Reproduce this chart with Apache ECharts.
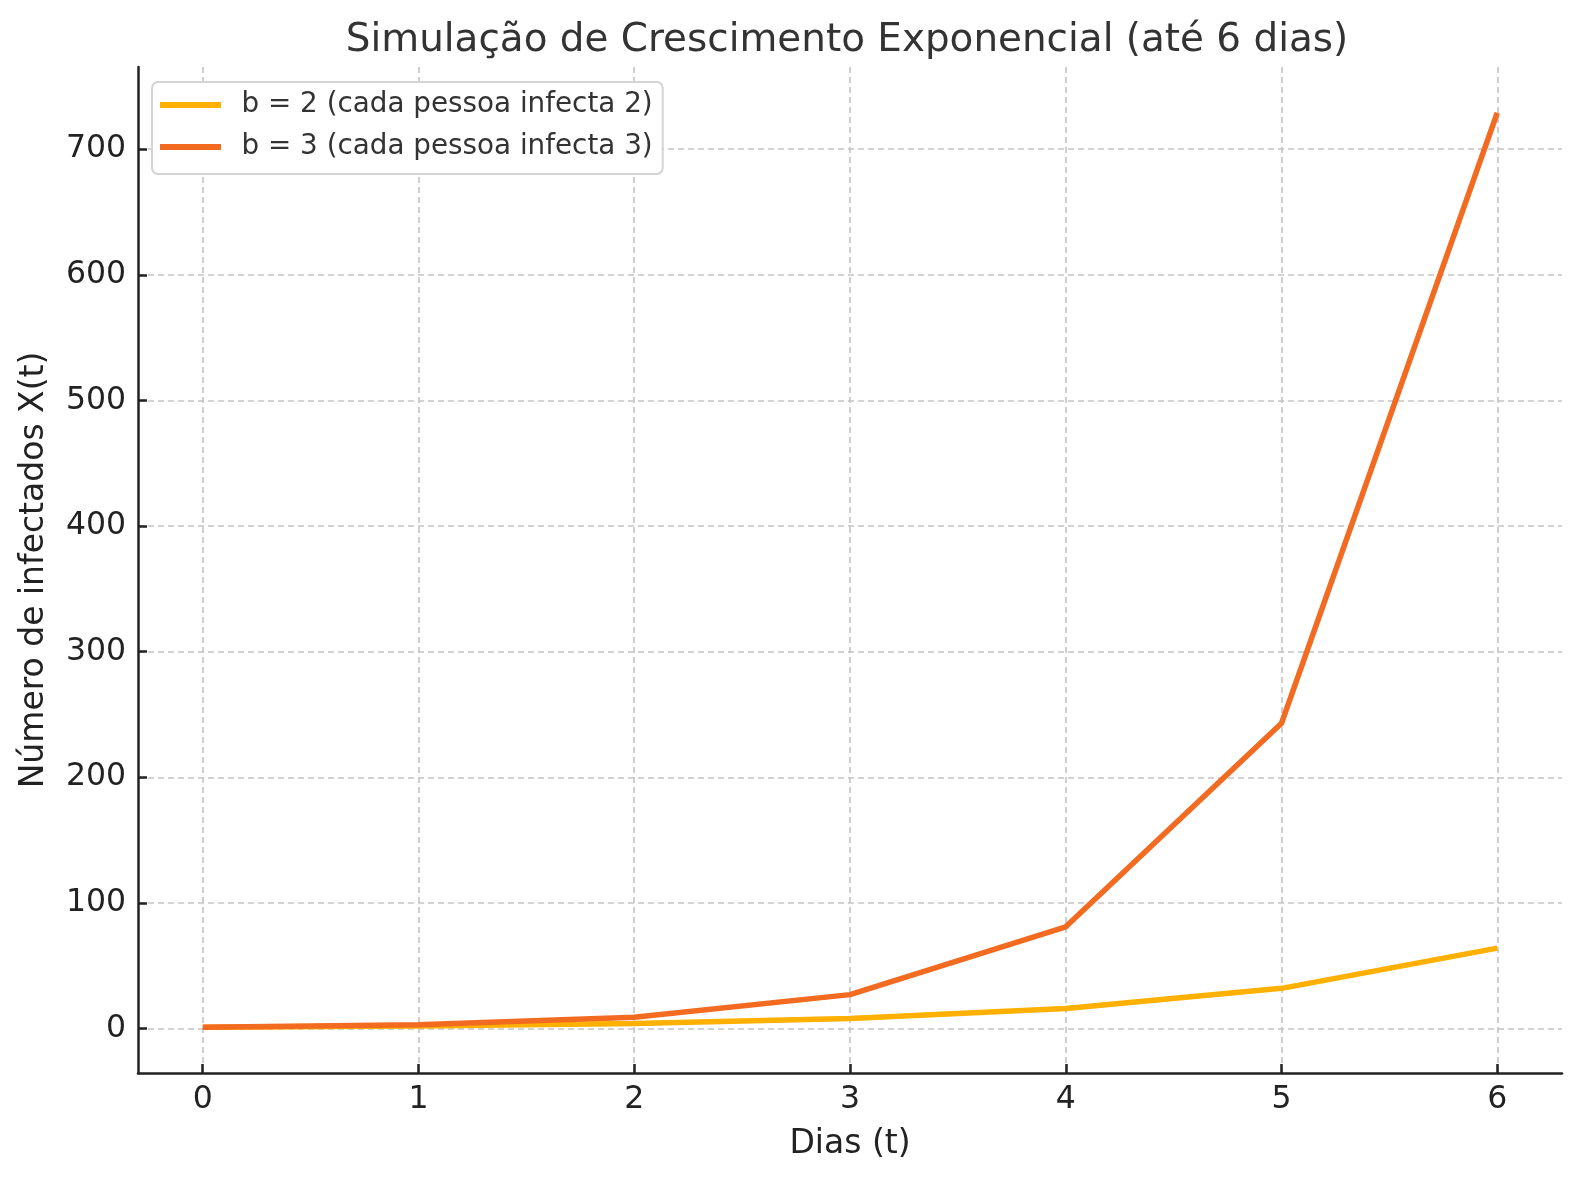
<!DOCTYPE html>
<html>
<head>
<meta charset="utf-8">
<script src="https://cdn.jsdelivr.net/npm/echarts@6/dist/echarts.min.js"></script>
<style>
  html, body { margin: 0; padding: 0; background: #fff; }
  #main { width: 1580px; height: 1180px; }
</style>
</head>
<body>
<div id="main"></div>
<script>
// dias (t)
const days = [0, 1, 2, 3, 4, 5, 6];
// b = 2 and b = 3
const infectedB2 = [1, 2, 4, 8, 16, 32, 64];
const infectedB3 = [1, 3, 9, 27, 81, 243, 729];
const xTicks = [0, 1, 2, 3, 4, 5, 6];
const yTicks = [0, 100, 200, 300, 400, 500, 600, 700];

const seriesNames = ['b = 2 (cada pessoa infecta 2)', 'b = 3 (cada pessoa infecta 3)'];
const colors = ['#FFB000', '#F26B21'];

const font = 'DejaVu Sans';
const chart = echarts.init(document.getElementById('main'));

const gridLine = { show: true, lineStyle: { color: '#c4c4c4', width: 1.6, type: [6, 4] } };

const option = {
  backgroundColor: '#fff',
  animation: false,
  title: {
    text: 'Simulação de Crescimento Exponencial (até 6 dias)',
    left: 842, top: 16, textAlign: 'center',
    textStyle: { fontFamily: font, fontSize: 38.9, fontWeight: 'normal', color: '#333' }
  },
  legend: {
    left: 152, top: 82,
    orient: 'vertical',
    data: seriesNames,
    icon: 'rect',
    itemWidth: 61, itemHeight: 6, itemGap: 14,
    padding: [9, 10, 13, 8],
    backgroundColor: '#fff',
    borderColor: '#d4d4d4', borderWidth: 2, borderRadius: 6,
    textStyle: { fontFamily: font, fontSize: 27.8, color: '#333', padding: [0, 0, 0, 15.5] }
  },
  grid: { left: 138, right: 18, top: 67, bottom: 107 },
  xAxis: {
    type: 'value', min: -0.3, max: 6.3,
    name: 'Dias (t)', nameLocation: 'middle', nameGap: 55,
    nameTextStyle: { fontFamily: font, fontSize: 33, color: '#222' },
    axisLine: { onZero: false, lineStyle: { color: '#222', width: 2.5 } },
    axisTick: { show: true, inside: true, length: 9, customValues: xTicks, lineStyle: { color: '#222', width: 2.5 } },
    axisLabel: { customValues: xTicks, fontFamily: font, fontSize: 31.5, color: '#222', margin: 11 },
    splitLine: gridLine
  },
  yAxis: {
    type: 'value', min: -35.4, max: 765.4,
    name: 'Número de infectados X(t)', nameLocation: 'middle', nameGap: 87, nameRotate: 90,
    nameTextStyle: { fontFamily: font, fontSize: 33, color: '#222' },
    axisLine: { show: true, onZero: false, lineStyle: { color: '#222', width: 2.5 } },
    axisTick: { show: true, inside: true, length: 9, customValues: yTicks, lineStyle: { color: '#222', width: 2.5 } },
    axisLabel: { customValues: yTicks, fontFamily: font, fontSize: 31.5, color: '#222', margin: 12 },
    splitLine: gridLine
  },
  series: [
    {
      name: seriesNames[0], type: 'line', showSymbol: false,
      data: days.map((d, i) => [d, infectedB2[i]]),
      itemStyle: { color: colors[0] },
      lineStyle: { color: colors[0], width: 5.5 }
    },
    {
      name: seriesNames[1], type: 'line', showSymbol: false,
      data: days.map((d, i) => [d, infectedB3[i]]),
      itemStyle: { color: colors[1] },
      lineStyle: { color: colors[1], width: 5.5 }
    }
  ]
};

chart.setOption(option);
</script>
</body>
</html>
